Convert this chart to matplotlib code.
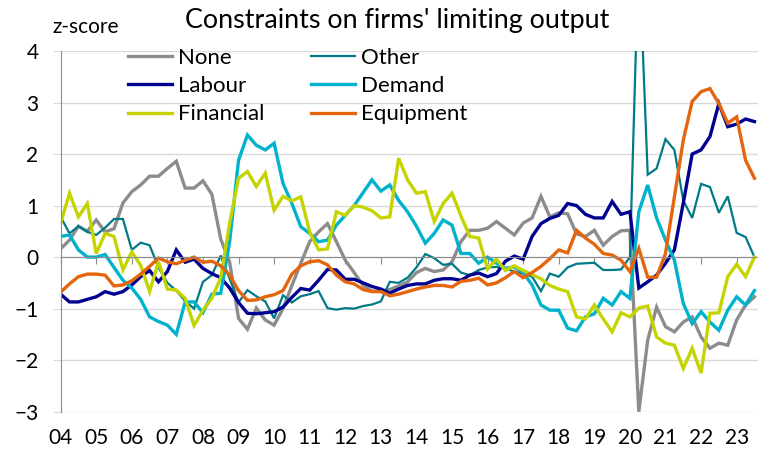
import numpy as np
import pandas as pd
import matplotlib
matplotlib.use("Agg")
import matplotlib.pyplot as plt

# quarterly z-scores, 2004Q1 - 2023Q3
quarters = pd.period_range("2004Q1", "2023Q3", freq="Q")

none_ = [0.16, 0.33, 0.60, 0.50, 0.72, 0.49, 0.55, 1.05,
         1.27, 1.40, 1.57, 1.57, 1.72, 1.86, 1.34, 1.34,
         1.48, 1.22, 0.35, -0.10, -1.19, -1.40, -0.99, -1.22,
         -1.32, -1.00, -0.55, -0.12, 0.30, 0.49, 0.65, 0.30,
         -0.06, -0.30, -0.55, -0.66, -0.66, -0.63, -0.56, -0.48,
         -0.30, -0.22, -0.28, -0.25, -0.09, 0.30, 0.52, 0.52,
         0.56, 0.69, 0.56, 0.43, 0.66, 0.76, 1.18, 0.78,
         0.86, 0.84, 0.45, 0.40, 0.52, 0.23, 0.40, 0.51,
         0.52, -3.00, -1.61, -0.97, -1.35, -1.45, -1.26, -1.16,
         -1.55, -1.77, -1.67, -1.71, -1.22, -0.93, -0.77]

other = [0.78, 0.46, 0.60, 0.49, 0.43, 0.57, 0.74, 0.74,
         0.14, 0.28, 0.23, -0.20, -0.50, -0.65, -0.85, -1.00,
         -0.48, -0.35, 0.03, -0.42, -0.88, -0.64, -0.76, -0.86,
         -1.19, -0.74, -0.88, -0.76, -0.72, -0.66, -0.99, -1.02,
         -0.99, -1.00, -0.95, -0.92, -0.86, -0.48, -0.50, -0.40,
         -0.20, 0.06, -0.02, -0.15, -0.13, -0.30, -0.35, -0.25,
         -0.20, -0.19, -0.22, -0.28, -0.32, -0.38, -0.66, -0.32,
         -0.38, -0.20, -0.13, -0.12, -0.11, -0.25, -0.25, -0.24,
         0.00, 6.00, 1.60, 1.72, 2.29, 2.08, 1.10, 0.76,
         1.42, 1.36, 0.86, 1.18, 0.47, 0.39, 0.00]

labour = [-0.72, -0.87, -0.87, -0.82, -0.77, -0.67, -0.72, -0.67,
          -0.54, -0.38, -0.26, -0.48, -0.28, 0.14, -0.10, -0.04,
          -0.22, -0.32, -0.40, -0.60, -0.88, -1.09, -1.10, -1.08,
          -1.06, -0.97, -0.78, -0.61, -0.64, -0.45, -0.24, -0.25,
          -0.43, -0.43, -0.50, -0.57, -0.62, -0.70, -0.62, -0.55,
          -0.52, -0.52, -0.45, -0.42, -0.42, -0.45, -0.35, -0.31,
          -0.38, -0.32, -0.08, 0.02, -0.04, 0.40, 0.65, 0.75,
          0.81, 1.04, 1.00, 0.83, 0.76, 0.76, 1.08, 0.83,
          0.88, -0.60, -0.48, -0.35, -0.12, 0.14, 1.05, 2.00,
          2.08, 2.34, 2.98, 2.53, 2.58, 2.68, 2.63]

demand = [0.40, 0.43, 0.14, 0.00, 0.00, 0.05, -0.20, -0.45,
          -0.60, -0.82, -1.16, -1.25, -1.32, -1.50, -0.87, -0.87,
          -1.08, -0.72, -0.70, 0.30, 1.88, 2.37, 2.17, 2.08,
          2.21, 1.43, 1.04, 0.59, 0.46, 0.30, 0.33, 0.62,
          0.81, 1.00, 1.25, 1.50, 1.28, 1.40, 1.10, 0.88,
          0.60, 0.27, 0.46, 0.72, 0.62, 0.07, 0.07, -0.12,
          0.00, -0.12, -0.22, -0.19, -0.30, -0.54, -0.93, -1.03,
          -1.03, -1.38, -1.43, -1.16, -1.10, -0.80, -0.93, -0.67,
          -0.80, 0.88, 1.40, 0.76, 0.33, -0.06, -0.90, -1.29,
          -1.06, -1.26, -1.42, -1.03, -0.77, -0.93, -0.65]

financial = [0.66, 1.24, 0.78, 1.04, 0.07, 0.46, 0.40, -0.25,
             0.10, -0.16, -0.67, -0.09, -0.62, -0.64, -0.80, -1.33,
             -1.03, -0.80, -0.40, 0.66, 1.53, 1.66, 1.37, 1.63,
             0.91, 1.18, 1.09, 1.17, 0.49, 0.14, 0.16, 0.88,
             0.81, 1.00, 0.97, 0.90, 0.76, 0.78, 1.92, 1.50,
             1.24, 1.27, 0.69, 1.04, 1.24, 0.80, 0.40, 0.37,
             -0.23, -0.04, -0.26, -0.17, -0.26, -0.34, -0.42, -0.55,
             -0.62, -0.67, -1.16, -1.20, -0.93, -1.20, -1.45, -1.08,
             -1.16, -0.99, -0.95, -1.55, -1.67, -1.71, -2.16, -1.77,
             -2.25, -1.09, -1.08, -0.38, -0.14, -0.38, 0.00]

equipment = [-0.68, -0.52, -0.38, -0.33, -0.33, -0.35, -0.56, -0.54,
             -0.46, -0.33, -0.18, -0.02, -0.09, -0.13, -0.06, 0.00,
             -0.10, -0.08, -0.17, -0.35, -0.65, -0.84, -0.83, -0.77,
             -0.73, -0.65, -0.33, -0.17, -0.09, -0.07, -0.15, -0.35,
             -0.48, -0.52, -0.63, -0.67, -0.67, -0.75, -0.72, -0.67,
             -0.62, -0.58, -0.55, -0.55, -0.58, -0.47, -0.45, -0.41,
             -0.54, -0.50, -0.40, -0.28, -0.40, -0.30, -0.18, -0.03,
             0.14, 0.08, 0.52, 0.37, 0.25, 0.07, 0.04, -0.06,
             -0.28, 0.17, -0.39, -0.39, 0.07, 1.17, 2.27, 3.02,
             3.21, 3.27, 2.98, 2.60, 2.72, 1.88, 1.53]

years = list(range(2004, 2024))
year_labels = [f"{y % 100:02d}" for y in years]

x = quarters.year + (quarters.quarter - 1) / 4.0

series = [
    ("None", none_, "#8c8c8c", 2.4),
    ("Other", other, "#007a87", 1.6),
    ("Labour", labour, "#000091", 2.4),
    ("Demand", demand, "#00b2cc", 2.4),
    ("Financial", financial, "#c5d400", 2.4),
    ("Equipment", equipment, "#e4650c", 2.4),
]

plt.rcParams["font.family"] = ["Lato", "DejaVu Sans"]

fig = plt.figure(figsize=(7.58, 4.54), dpi=100)
ax = fig.add_axes([0.080, 0.0932, 0.920, 0.7945])

lines = {}
for name, vals, col, lw in series:
    lines[name], = ax.plot(x, vals, color=col, lw=lw, label=name,
                           solid_joinstyle="miter")

ax.set_xlim(2004, 2023.6)
ax.set_ylim(-3, 4)
ax.set_yticks(range(-3, 5))
ax.grid(axis="y", color="#d9d9d9", lw=1.0)
ax.set_axisbelow(True)

for s in ["top", "right"]:
    ax.spines[s].set_visible(False)
ax.spines["left"].set_color("#8c8c8c")
ax.spines["bottom"].set_position(("data", 0))
ax.spines["bottom"].set_color("#8c8c8c")

ax.tick_params(axis="y", direction="out", length=6, color="#d9d9d9",
               labelsize=15, pad=10)
ax.set_xticks(years)
ax.tick_params(axis="x", direction="out", length=5, color="#8c8c8c",
               labelbottom=False)

sec = ax.secondary_xaxis("bottom")
sec.set_xticks(years)
sec.set_xticklabels(year_labels)
sec.tick_params(length=0, labelsize=15, pad=12)
sec.spines["bottom"].set_visible(False)

order = ["None", "Labour", "Financial", "Other", "Demand", "Equipment"]
fig.legend([lines[n] for n in order], order, ncol=2, frameon=False,
           loc="upper left", bbox_to_anchor=(128 / 758, 1 - 48 / 454),
           fontsize=16, handlelength=2.0, handletextpad=0.25,
           columnspacing=2.1, labelspacing=0.37, borderpad=0,
           borderaxespad=0)

fig.text(0.524, 0.955, "Constraints on firms' limiting output",
         ha="center", va="center", fontsize=19.4)
fig.text(52 / 758, 0.940, "z-score", ha="left", va="center", fontsize=15)

fig.savefig("out.png", dpi=100)
